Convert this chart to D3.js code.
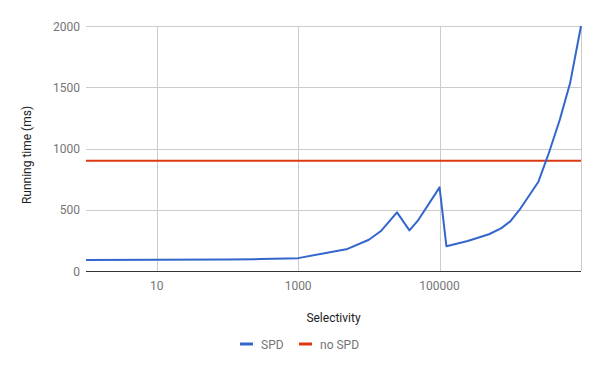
<!DOCTYPE html>
<html>
<head>
<meta charset="utf-8">
<script src="https://cdn.jsdelivr.net/npm/d3@7"></script>
<style>
  body { margin: 0; background: #fff; }
  svg { font-family: Roboto, Arial, sans-serif; }
</style>
</head>
<body>
<div id="chart"></div>
<script>
// selectivity values (x) and running times in ms
const selectivity = [1, 10, 100, 300, 1000, 5000, 10000, 15000, 25000, 37500, 50000, 100000,
                     125000, 250000, 500000, 750000, 1000000, 1400000, 2500000, 3500000,
                     5000000, 7000000, 10000000];
const spdTime = [90, 91, 93, 97, 105, 180, 255, 329, 479, 332, 416, 683,
                 202, 245, 300, 350, 405, 512, 729, 961,
                 1233, 1532, 2000];
const noSpdTime = 900;

const xTicks = [10, 1000, 100000];
const xGrid = [10, 1000, 100000, 10000000];
const yTicks = [0, 500, 1000, 1500, 2000];

const seriesNames = ["SPD", "no SPD"];
const colors = ["#3366cc", "#dc3912"];

const width = 600, height = 371;
const margin = {top: 26, right: 19, bottom: 100, left: 86};

const svg = d3.select("#chart").append("svg")
    .attr("width", width)
    .attr("height", height);

const x = d3.scaleLog()
    .domain([1, 10000000])
    .range([margin.left, width - margin.right]);

const y = d3.scaleLinear()
    .domain([0, 2000])
    .range([height - margin.bottom + 0, margin.top]);

// gridlines
svg.append("g").selectAll("line")
    .data(yTicks.filter(d => d !== 0))
    .join("line")
    .attr("x1", x.range()[0]).attr("x2", x.range()[1])
    .attr("y1", d => Math.round(y(d)) + 0.5).attr("y2", d => Math.round(y(d)) + 0.5)
    .attr("stroke", "#cccccc");

svg.append("g").selectAll("line")
    .data(xGrid)
    .join("line")
    .attr("x1", d => Math.round(x(d)) + 0.5).attr("x2", d => Math.round(x(d)) + 0.5)
    .attr("y1", y(0)).attr("y2", y(2000))
    .attr("stroke", "#cccccc");

// y tick labels
svg.append("g").selectAll("text")
    .data(yTicks)
    .join("text")
    .attr("x", margin.left - 6)
    .attr("y", d => y(d) + 4.5)
    .attr("text-anchor", "end")
    .attr("font-size", 12)
    .attr("fill", "#757575")
    .text(d => d);

// x tick labels
svg.append("g").selectAll("text")
    .data(xTicks)
    .join("text")
    .attr("x", d => x(d))
    .attr("y", y(0) + 19)
    .attr("text-anchor", "middle")
    .attr("font-size", 12)
    .attr("fill", "#757575")
    .text(d => d);

// series
const line = d3.line()
    .x((d, i) => x(selectivity[i]))
    .y(d => y(d));

svg.append("line")
    .attr("x1", x.range()[0]).attr("x2", x.range()[1])
    .attr("y1", y(noSpdTime)).attr("y2", y(noSpdTime))
    .attr("stroke", colors[1])
    .attr("stroke-width", 2);

svg.append("path")
    .datum(spdTime)
    .attr("d", line)
    .attr("fill", "none")
    .attr("stroke", colors[0])
    .attr("stroke-width", 2)
    .attr("stroke-linejoin", "round");

// baseline
svg.append("line")
    .attr("x1", x.range()[0]).attr("x2", x.range()[1])
    .attr("y1", Math.round(y(0)) + 0.5).attr("y2", Math.round(y(0)) + 0.5)
    .attr("stroke", "#333333");

// axis titles
svg.append("text")
    .attr("x", (x.range()[0] + x.range()[1]) / 2)
    .attr("y", 322)
    .attr("text-anchor", "middle")
    .attr("font-size", 12)
    .attr("fill", "#222222")
    .text("Selectivity");

svg.append("text")
    .attr("transform", "translate(31,155) rotate(-90)")
    .attr("text-anchor", "middle")
    .attr("font-size", 12)
    .attr("fill", "#222222")
    .text("Running time (ms)");

// legend
const legendX = [240, 299];
const legend = svg.append("g").selectAll("g")
    .data(seriesNames)
    .join("g")
    .attr("transform", (d, i) => `translate(${legendX[i]},344)`);

legend.append("rect")
    .attr("x", 0).attr("y", -1.5)
    .attr("width", 13).attr("height", 3)
    .attr("fill", (d, i) => colors[i]);

legend.append("text")
    .attr("x", 21)
    .attr("y", 4.5)
    .attr("font-size", 12)
    .attr("fill", "#757575")
    .text(d => d);
</script>
</body>
</html>
